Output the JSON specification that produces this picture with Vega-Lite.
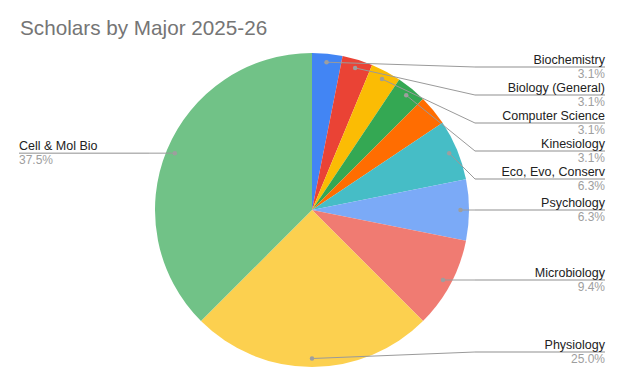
{
  "$schema": "https://vega.github.io/schema/vega-lite/v6.json",
  "width": 624,
  "height": 314,
  "autosize": {"type": "none"},
  "padding": {"top": 53, "bottom": 19, "left": 0, "right": 0},
  "background": "white",
  "config": {"view": {"stroke": null}, "font": "Liberation Sans"},
  "title": {
    "text": "Scholars by Major 2025-26",
    "anchor": "start",
    "frame": "group",
    "offset": 17,
    "dx": 20,
    "dy": 20,
    "baseline": "alphabetic",
    "fontSize": 20.7,
    "fontWeight": "normal",
    "color": "#757575",
    "font": "Liberation Sans"
  },
  "data": {
    "values": [
      {"major": "Biochemistry", "count": 1, "order": 1},
      {"major": "Biology (General)", "count": 1, "order": 2},
      {"major": "Computer Science", "count": 1, "order": 3},
      {"major": "Kinesiology", "count": 1, "order": 4},
      {"major": "Other", "count": 1, "order": 5},
      {"major": "Eco, Evo, Conserv", "count": 2, "order": 6},
      {"major": "Psychology", "count": 2, "order": 7},
      {"major": "Microbiology", "count": 3, "order": 8},
      {"major": "Physiology", "count": 8, "order": 9},
      {"major": "Cell & Mol Bio", "count": 12, "order": 10}
    ]
  },
  "transform": [
    {"joinaggregate": [{"op": "sum", "field": "count", "as": "total"}]},
    {"window": [{"op": "sum", "field": "count", "as": "cum"}], "sort": [{"field": "order"}], "frame": [null, 0]},
    {"calculate": "2*PI*(datum.cum - datum.count/2)/datum.total", "as": "a"},
    {"calculate": "148.5*sin(datum.a)", "as": "dx"},
    {"calculate": "-148.5*cos(datum.a)", "as": "dy"},
    {"calculate": "datum.count/datum.total", "as": "pct"}
  ],
  "layer": [
    {
      "mark": {"type": "arc", "stroke": null},
      "encoding": {
        "theta": {"field": "count", "type": "quantitative", "stack": true},
        "order": {"field": "order", "type": "quantitative"},
        "color": {
          "field": "major",
          "type": "nominal",
          "legend": null,
          "scale": {
            "domain": ["Biochemistry", "Biology (General)", "Computer Science", "Kinesiology", "Other", "Eco, Evo, Conserv", "Psychology", "Microbiology", "Physiology", "Cell & Mol Bio"],
            "range": ["#4285F4", "#EA4335", "#FBBC04", "#34A853", "#FF6D01", "#46BDC6", "#7BAAF7", "#F07B72", "#FCD04F", "#71C287"]
          }
        }
      }
    },
    {
      "transform": [
        {"filter": "datum.major !== 'Other'"},
        {"calculate": "datum.a <= PI + 0.001 ? 'R' : 'L'", "as": "side"},
        {"window": [{"op": "row_number", "as": "rk"}], "groupby": ["side"], "sort": [{"field": "a"}]},
        {"calculate": "max(datum.dy, -143) - 28*datum.rk", "as": "t"},
        {"window": [{"op": "max", "field": "t", "as": "tmax"}], "groupby": ["side"], "sort": [{"field": "a"}], "frame": [null, 0]},
        {"calculate": "min(datum.tmax + 28*datum.rk, 142)", "as": "ly"},
        {"calculate": "datum.side == 'R' ? max(datum.dx, 163) : min(datum.dx, -163)", "as": "ex"},
        {"calculate": "datum.side == 'R' ? 293 : -293", "as": "lx"}
      ],
      "layer": [
        {
          "mark": {"type": "rule", "color": "#9a9a9a", "strokeWidth": 1},
          "encoding": {
            "x": {"field": "dx", "type": "quantitative", "scale": {"domain": [-312, 312], "nice": false, "zero": false}, "axis": null},
            "y": {"field": "dy", "type": "quantitative", "scale": {"domain": [-157, 157], "nice": false, "zero": false, "reverse": true}, "axis": null},
            "x2": {"field": "ex"},
            "y2": {"field": "ly"}
          }
        },
        {
          "mark": {"type": "rule", "color": "#8f8f8f", "strokeWidth": 1},
          "encoding": {
            "x": {"field": "ex", "type": "quantitative", "scale": {"domain": [-312, 312], "nice": false, "zero": false}, "axis": null},
            "y": {"field": "ly", "type": "quantitative", "scale": {"domain": [-157, 157], "nice": false, "zero": false, "reverse": true}, "axis": null},
            "x2": {"field": "lx"}
          }
        },
        {
          "mark": {"type": "point", "filled": true, "size": 20, "color": "#9e9e9e", "opacity": 1},
          "encoding": {
            "x": {"field": "dx", "type": "quantitative", "scale": {"domain": [-312, 312], "nice": false, "zero": false}, "axis": null},
            "y": {"field": "dy", "type": "quantitative", "scale": {"domain": [-157, 157], "nice": false, "zero": false, "reverse": true}, "axis": null}
          }
        },
        {
          "mark": {"type": "text", "fontSize": 12.5, "color": "#222222", "baseline": "alphabetic", "dy": -3, "align": {"expr": "datum.side == 'R' ? 'right' : 'left'"}},
          "encoding": {
            "x": {"field": "lx", "type": "quantitative", "scale": {"domain": [-312, 312], "nice": false, "zero": false}, "axis": null},
            "y": {"field": "ly", "type": "quantitative", "scale": {"domain": [-157, 157], "nice": false, "zero": false, "reverse": true}, "axis": null},
            "text": {"field": "major"}
          }
        },
        {
          "mark": {"type": "text", "fontSize": 12, "color": "#9e9e9e", "baseline": "alphabetic", "dy": 11, "align": {"expr": "datum.side == 'R' ? 'right' : 'left'"}},
          "encoding": {
            "x": {"field": "lx", "type": "quantitative", "scale": {"domain": [-312, 312], "nice": false, "zero": false}, "axis": null},
            "y": {"field": "ly", "type": "quantitative", "scale": {"domain": [-157, 157], "nice": false, "zero": false, "reverse": true}, "axis": null},
            "text": {"field": "pct", "format": ".1%"}
          }
        }
      ]
    }
  ]
}
